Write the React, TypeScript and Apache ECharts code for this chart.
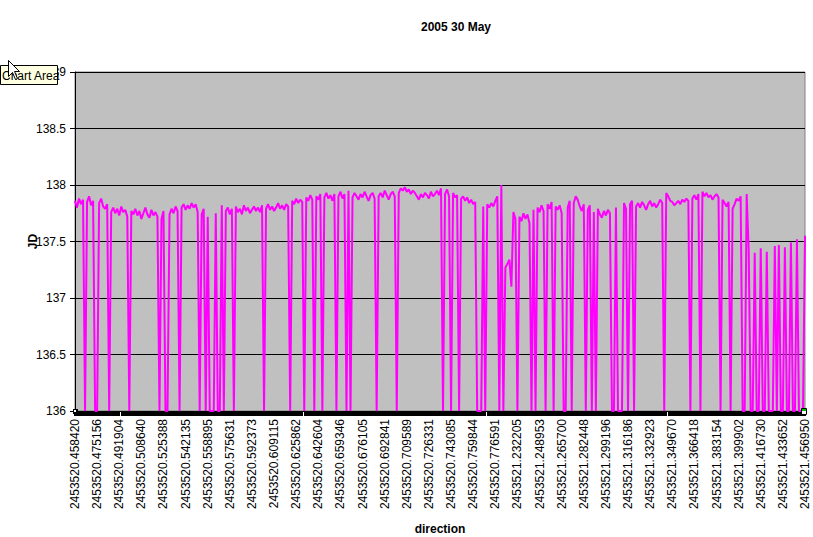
import React, { useEffect, useRef } from "react";
import * as echarts from "echarts";

const chartTitle = "2005 30 May";
const yAxisName = "JD";
const xAxisName = "direction";

const tickLabels = [
  "2453520.458420", "2453520.475156", "2453520.491904", "2453520.508640",
  "2453520.525388", "2453520.542135", "2453520.558895", "2453520.575631",
  "2453520.592373", "2453520.609115", "2453520.625862", "2453520.642604",
  "2453520.659346", "2453520.676105", "2453520.692841", "2453520.709589",
  "2453520.726331", "2453520.743085", "2453520.759844", "2453520.776591",
  "2453521.232205", "2453521.248953", "2453521.265700", "2453521.282448",
  "2453521.299196", "2453521.316186", "2453521.332923", "2453521.349670",
  "2453521.366418", "2453521.383154", "2453521.399902", "2453521.416730",
  "2453521.433652", "2453521.456950",
];

// readings between two labelled ticks
const LABEL_STEP = 11;

const firstNightJD = [
  137.86, 137.80, 137.88, 137.83, 137.87, 136, 137.85, 137.90, 137.82, 137.86,
  136, 136, 137.84, 137.88, 137.81, 137.79, 137.83, 136, 137.76, 137.80,
  137.75, 137.79, 137.73, 137.81, 137.76, 137.78, 137.72, 136, 137.77, 137.74,
  137.79, 137.73, 137.77, 137.70, 137.75, 137.80, 137.74, 137.71, 137.78, 137.73,
  137.76, 137.72, 136, 137.70, 137.77, 136, 136, 137.74, 137.79, 137.75,
  137.81, 137.77, 136, 137.80, 137.83, 137.78, 137.82, 137.79, 137.84, 137.80,
  137.83, 137.76, 136, 137.74, 137.79, 136, 137.72, 136, 136, 136,
  137.75, 136, 136, 137.82, 136, 137.77, 137.80, 137.74, 137.79, 136,
  137.81, 137.76, 137.79, 137.74, 137.82, 137.77, 137.80, 137.75, 137.78, 137.81,
  137.77, 137.80, 137.76, 137.82, 136, 137.79, 137.83, 137.78, 137.81, 137.77,
  137.80, 137.84, 137.79, 137.82, 137.78, 137.83, 137.81, 136, 137.86, 137.83,
  137.88, 137.84, 137.87, 137.85, 136, 137.89, 137.86, 137.91, 137.87, 136,
  137.90, 137.87, 137.92, 136, 137.89, 137.93, 137.88, 137.91, 137.86, 137.92,
  136, 137.90, 137.94, 137.88, 137.92, 136, 137.95, 136, 137.89, 137.93,
  137.90, 137.87, 137.92, 137.89, 137.94, 137.90, 137.86, 137.91, 137.93, 137.88,
  136, 137.90, 137.93, 137.89, 137.95, 137.91, 137.87, 137.92, 137.94, 137.90,
  136, 137.93, 137.97, 137.95, 137.98, 137.94, 137.96, 137.92, 137.95, 137.93,
  137.90, 137.87, 137.92, 137.89, 137.93, 137.91, 137.88, 137.94, 137.90, 137.92,
  137.95, 137.91, 137.97, 136, 137.92, 137.96, 137.90, 136, 137.93, 137.89,
  137.91, 136, 137.88, 137.90, 137.86, 137.89, 137.84, 137.87, 137.83, 137.85,
  136, 136, 136, 137.81, 136, 137.83, 137.80, 137.84, 137.81, 137.86,
  137.90, 136, 138.00,
];

const secondNightJD = [
  136, 137.27, 137.30, 137.34, 137.10, 137.76, 137.70,
  136, 137.72, 137.68, 137.75, 137.70, 137.74, 137.66, 136, 137.78, 136,
  137.80, 137.76, 137.82, 137.77, 136, 137.83, 137.79, 137.85, 136, 137.81,
  137.78, 137.82, 137.75, 136, 136, 137.80, 137.86, 136, 137.84, 137.90,
  137.87, 137.81, 137.77, 137.83, 136, 137.78, 137.82, 136, 137.76, 136,
  137.79, 137.74, 137.71, 137.77, 137.73, 137.78, 137.75, 136, 136, 137.80,
  136, 136, 136, 137.84, 137.79, 136, 137.83, 137.86, 136, 137.81,
  137.84, 137.80, 137.85, 137.82, 137.78, 137.83, 137.86, 137.81, 137.84, 137.80,
  137.83, 137.87, 137.84, 136, 137.93, 137.90, 137.86, 137.85, 137.82, 137.84,
  137.86, 137.83, 137.87, 137.85, 137.88, 137.86, 136, 137.88, 137.91, 137.87,
  137.92, 136, 137.94, 137.90, 137.93, 137.89, 137.91, 137.87, 137.90, 137.92,
  137.89, 136, 137.87, 137.84, 137.81, 137.85, 136, 137.79, 137.83, 137.88,
  137.86, 137.90, 136, 136, 137.92, 137.42, 136, 136, 137.40, 136,
  136, 137.44, 136, 136, 137.41, 136, 136, 136, 137.46, 136,
  137.47, 136, 136, 137.45, 136, 136, 137.49, 136, 136, 137.52,
  136, 136, 136, 137.55,
];

const FONT = "'Liberation Sans', Arial, sans-serif";

export default function App() {
  const ref = useRef<HTMLDivElement>(null);

  useEffect(() => {
    if (!ref.current) return;
    const chart = echarts.init(ref.current, null, { renderer: "svg" });
    const values = [...firstNightJD, ...secondNightJD];
    const data = values.map((v, i) => [i, v]);

    chart.setOption({
      animation: false,
      backgroundColor: "#ffffff",
      grid: {
        left: 75,
        right: 8,
        top: 72,
        bottom: 126,
        outerBoundsMode: "none",
        show: true,
        backgroundColor: "#c0c0c0",
        borderColor: "#808080",
        borderWidth: 1,
      },
      xAxis: {
        type: "value",
        min: 0,
        max: values.length - 1,
        interval: LABEL_STEP,
        name: xAxisName,
        nameLocation: "middle",
        nameGap: 112,
        nameMoveOverlap: false,
        nameTextStyle: { fontFamily: FONT, fontSize: 12, fontWeight: "bold", color: "#000" },
        axisLine: { show: true, onZero: false, lineStyle: { color: "#000", width: 1 } },
        axisTick: { show: true, length: 5, lineStyle: { color: "#000", width: 2 } },
        minorTick: { show: true, splitNumber: LABEL_STEP, length: 5, lineStyle: { color: "#000", width: 2 } },
        splitLine: { show: false },
        axisLabel: {
          rotate: 90,
          margin: 8,
          fontFamily: FONT,
          fontSize: 12,
          color: "#000",
          showMaxLabel: true,
          formatter: (v: number) => tickLabels[Math.round(v / LABEL_STEP)] ?? "",
        },
      },
      yAxis: {
        type: "value",
        min: 136,
        max: 139,
        interval: 0.5,
        name: yAxisName,
        nameLocation: "middle",
        nameGap: 36,
        nameMoveOverlap: false,
        nameRotate: 90,
        nameTextStyle: { fontFamily: FONT, fontSize: 12, fontWeight: "bold", color: "#000" },
        axisLine: { show: true, lineStyle: { color: "#000", width: 1 } },
        axisTick: { show: true, length: 5, lineStyle: { color: "#000", width: 1 } },
        splitLine: { show: true, lineStyle: { color: "#000", width: 1 } },
        axisLabel: { margin: 9, fontFamily: FONT, fontSize: 12, color: "#000" },
      },
      series: [
        {
          type: "line",
          data,
          symbol: "none",
          showSymbol: false,
          lineStyle: { color: "#ff00ff", width: 2 },
          itemStyle: { color: "#ff00ff" },
          z: 3,
        },
      ],
      graphic: [
        {
          type: "text",
          x: 456,
          y: 27,
          z: 100,
          style: {
            text: chartTitle,
            fontFamily: FONT,
            fontSize: 12,
            fontWeight: "bold",
            fill: "#000",
            align: "center",
            verticalAlign: "middle",
          },
        },
        {
          type: "rect",
          z: 100,
          shape: { x: 0.5, y: 65.5, width: 57, height: 19 },
          style: { fill: "#ffffe1", stroke: "#000", lineWidth: 1 },
        },
        {
          type: "text",
          x: 2,
          y: 75.5,
          z: 101,
          style: {
            text: "Chart Area",
            fontFamily: FONT,
            fontSize: 12,
            fill: "#000",
            align: "left",
            verticalAlign: "middle",
          },
        },
        {
          type: "polygon",
          z: 102,
          shape: {
            points: [
              [8.5, 60.5], [8.5, 76.5], [12.5, 72.5], [15.5, 79.5],
              [17.5, 78.5], [14.5, 71.5], [19.5, 71.5],
            ],
          },
          style: { fill: "#ffffff", stroke: "#000", lineWidth: 1 },
        },
        {
          type: "rect",
          z: 100,
          shape: { x: 73, y: 409, width: 5, height: 5 },
          style: { fill: "#000" },
        },
        {
          type: "rect",
          z: 101,
          shape: { x: 74, y: 410, width: 2, height: 2 },
          style: { fill: "#fff" },
        },
        {
          type: "rect",
          z: 100,
          shape: { x: 801.5, y: 408.5, width: 5, height: 6 },
          style: { fill: "#fff", stroke: "#000", lineWidth: 1 },
        },
        {
          type: "rect",
          z: 101,
          shape: { x: 802, y: 409, width: 4, height: 2 },
          style: { fill: "#00c000" },
        },
      ],
    });

    return () => chart.dispose();
  }, []);

  return (
    <div
      ref={ref}
      style={{ position: "absolute", left: 0, top: 0, width: 813, height: 537 }}
    />
  );
}
